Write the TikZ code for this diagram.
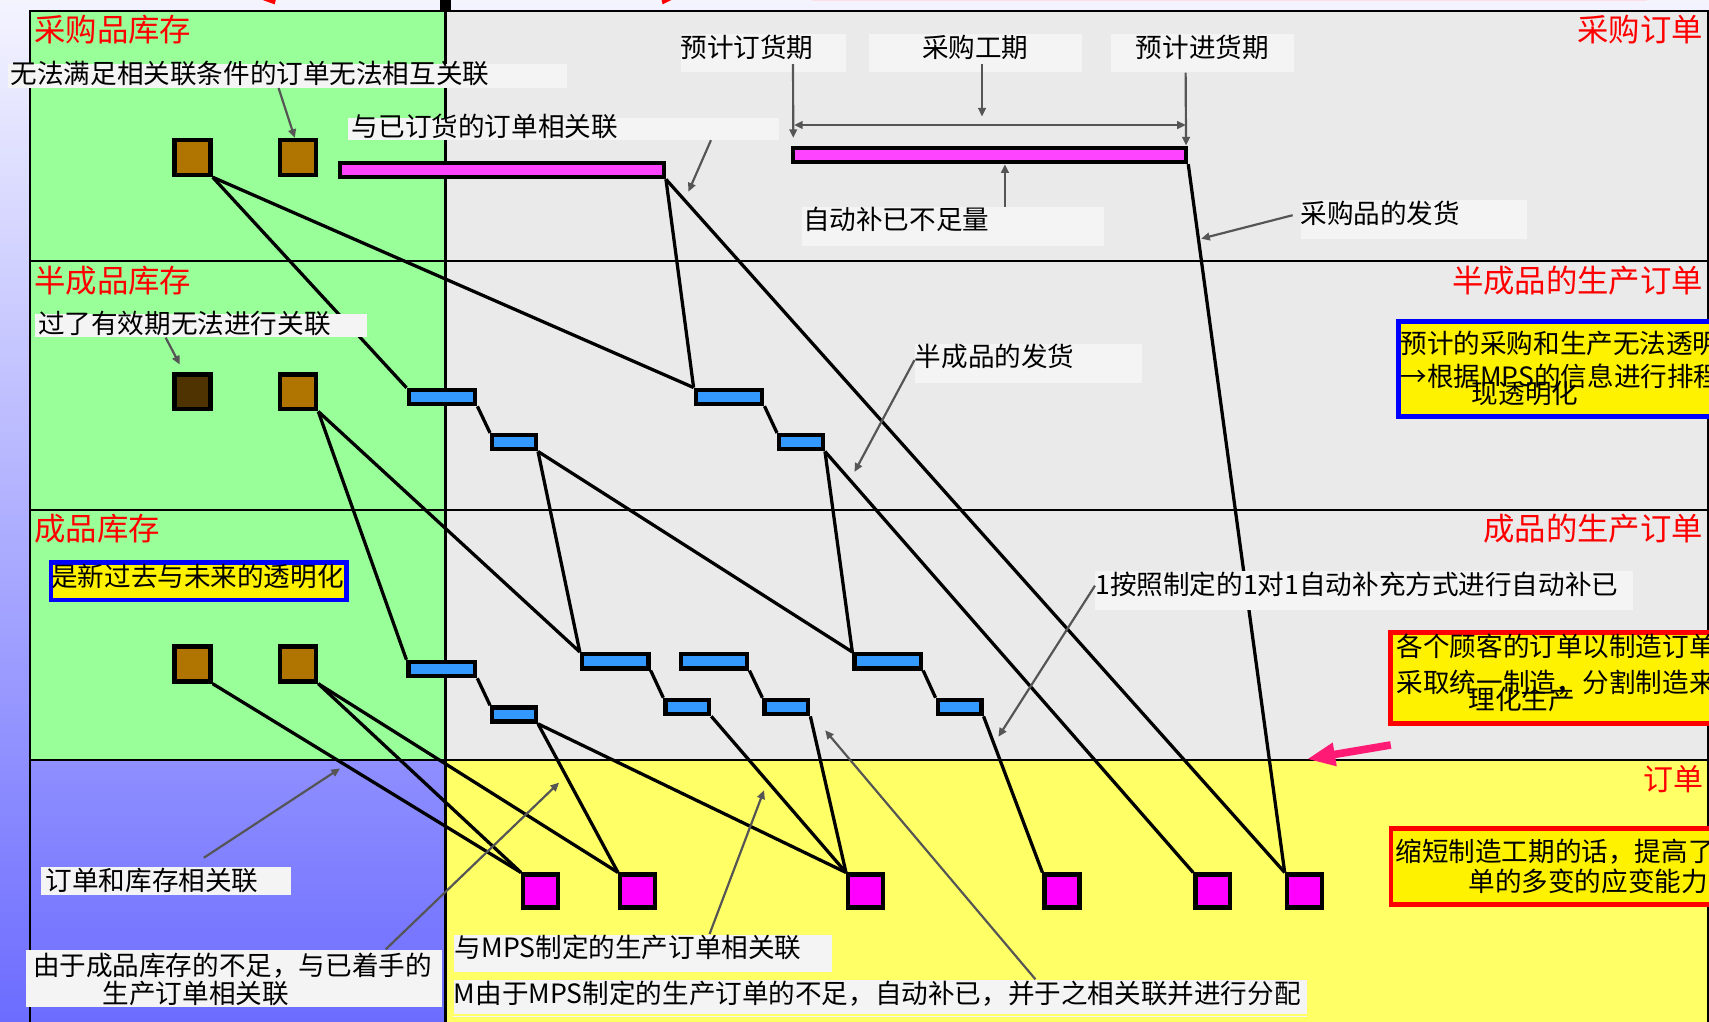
\documentclass[tikz,border=0pt]{standalone}
\usepackage{fontspec}
\setmainfont{Noto Sans CJK SC}
\usepackage{tikz, xcolor}
\usetikzlibrary{arrows.meta, calc}
\definecolor{stockgreen}{HTML}{99FF99}
\definecolor{cellgray}{HTML}{EAEAEA}
\definecolor{ordyellow}{HTML}{FFFF66}
\definecolor{notegray}{HTML}{F4F4F4}
\definecolor{stockbrown}{HTML}{B07400}
\definecolor{deadbrown}{HTML}{4F3300}
\definecolor{pinkbar}{HTML}{FF44FF}
\definecolor{custmag}{HTML}{FF00FF}
\definecolor{wipblue}{HTML}{3399FF}
\definecolor{pointgray}{HTML}{555555}
\definecolor{hotpink}{HTML}{FF1A75}
\definecolor{stripepink}{HTML}{FFDDE5}
\definecolor{sidetop}{HTML}{F4F4FF}
\definecolor{sidebot}{HTML}{6C6CFF}
\tikzset{
  rowlabel/.style={text=red, font=\fontsize{14.4}{16}\selectfont, inner sep=0},
  notebox/.style={fill=notegray, inner ysep=0, align=left, anchor=north west, font=\fontsize{12.2}{13}\selectfont},
  boxline/.style={inner sep=0, anchor=base west, font=\fontsize{12.2}{13}\selectfont},
  stocksq/.style={draw, line width=2pt, fill=stockbrown, minimum width=16.5pt, minimum height=16pt, inner sep=0},
  custsq/.style={stocksq, fill=custmag, minimum width=16pt, minimum height=15pt},
  longbar/.style={draw, line width=2pt, fill=wipblue, minimum width=30.5pt, minimum height=6.5pt, inner sep=0},
  shortbar/.style={longbar, minimum width=20pt},
  pordbar/.style={longbar, fill=pinkbar},
  hintbox/.style={draw=blue, line width=2pt, fill=yellow, inner sep=0, align=left, anchor=north west, font=\fontsize{12.2}{13}\selectfont},
  planbox/.style={draw=blue, fill=yellow, line width=2.2pt},
  warnbox/.style={draw=red, fill=yellow, line width=2.2pt},
  gridline/.style={line width=1pt},
  link/.style={line width=1.5pt},
  pointer/.style={draw=pointgray, line width=1pt, -{Triangle[length=4pt,width=3.5pt]}}
}
\begin{document}
\begin{tikzpicture}[x=0.5pt, y=-0.5pt]
\useasboundingbox (0,0) rectangle (1568,937);
\shade[top color=sidetop, bottom color=sidebot] (0,0) rectangle (1568,937);
\fill[red] (241,0) -- (253,0) -- (252,4) -- cycle;
\fill[red] (607,0) -- (616,0) -- (608,4) -- cycle;
\fill (404,0) rectangle (414,10);
\fill[stripepink] (745,0) rectangle (1511,1.2);
\fill[stockgreen] (27.4,10) rectangle (408.7,697.3);
\fill[cellgray] (408.7,10) rectangle (1570,697.3);
\fill[ordyellow] (408.7,697.3) rectangle (1570,940);
\draw[gridline] (27.4,940) -- (27.4,10) -- (1567.5,10) -- (1567.5,940);
\draw[gridline] (27.4,239.5) -- (1567.5,239.5);
\draw[gridline] (27.4,468) -- (1567.5,468);
\draw[gridline] (27.4,697.3) -- (1567.5,697.3);
\draw[gridline, line width=1.3pt] (408.7,10) -- (408.7,940);

\node[rowlabel, anchor=base west] (lpstock) at (31,38.5) {采购品库存};
\node[rowlabel, anchor=base east] (lporder) at (1563,38.5) {采购订单};
\node[rowlabel, anchor=base west] (lsstock) at (31,268) {半成品库存};
\node[rowlabel, anchor=base east] (lsorder) at (1563,268) {半成品的生产订单};
\node[rowlabel, anchor=base west] (lfstock) at (31,496) {成品库存};
\node[rowlabel, anchor=base east] (lforder) at (1563,496) {成品的生产订单};
\node[rowlabel, anchor=base east, font=\fontsize{13.75}{15}\selectfont] (lcorder) at (1563,725) {订单};

\node[stocksq] (pinv1) at (176.6,144.6) {};
\node[stocksq] (pinv2) at (273.5,144.6) {};
\node[stocksq, fill=deadbrown] (sinv1) at (176.6,359.5) {};
\node[stocksq] (sinv2) at (273.5,359.5) {};
\node[stocksq] (finv1) at (176.6,609.3) {};
\node[stocksq] (finv2) at (273.5,609.3) {};
\node[pordbar, minimum width=148.5pt] (pord1) at (460.5,156) {};
\node[pordbar, minimum width=180.2pt] (pord2) at (908,142.1) {};
\node[longbar] (sord1) at (405.5,364.3) {};
\node[shortbar] (sord2) at (471.6,405.7) {};
\node[longbar] (sord3) at (668.9,364.1) {};
\node[shortbar] (sord4) at (734.9,405.7) {};
\node[longbar] (ford1) at (405.4,613.8) {};
\node[shortbar] (ford2) at (471.6,655.6) {};
\node[longbar] (ford3) at (564.5,606.7) {};
\node[shortbar] (ford4) at (630.6,648.7) {};
\node[longbar] (ford5) at (655.1,606.7) {};
\node[shortbar] (ford6) at (721.5,648.7) {};
\node[longbar] (ford7) at (814.5,606.7) {};
\node[shortbar] (ford8) at (880.4,648.7) {};
\node[custsq] (cord1) at (496,817.5) {};
\node[custsq] (cord2) at (585,817.5) {};
\node[custsq] (cord3) at (794.2,817.5) {};
\node[custsq] (cord4) at (974.4,817.5) {};
\node[custsq] (cord5) at (1112.7,817.5) {};
\node[custsq] (cord6) at (1196.7,817.5) {};

\draw[link] (pinv1.south east) -- (sord1.north west);
\draw[link] (pinv1.south east) -- (sord3.north west);
\draw[link] (pord1.south east) -- (sord3.north west);
\draw[link] (pord1.south east) -- (cord6.north west);
\draw[link] (pord2.south east) -- (cord6.north west);
\draw[link] (sord1.south east) -- (sord2.north west);
\draw[link] (sord2.south east) -- (ford3.north west);
\draw[link] (sord2.south east) -- (ford7.north west);
\draw[link] (sord3.south east) -- (sord4.north west);
\draw[link] (sord4.south east) -- (ford7.north west);
\draw[link] (sord4.south east) -- (cord5.north west);
\draw[link] (sinv2.south east) -- (ford1.north west);
\draw[link] (sinv2.south east) -- (ford3.north west);
\draw[link] (ford1.south east) -- (ford2.north west);
\draw[link] (ford3.south east) -- (ford4.north west);
\draw[link] (ford5.south east) -- (ford6.north west);
\draw[link] (ford7.south east) -- (ford8.north west);
\draw[link] (ford2.south east) -- (cord2.north west);
\draw[link] (ford2.south east) -- (cord3.north west);
\draw[link] (ford4.south east) -- (cord3.north west);
\draw[link] (ford6.south east) -- (cord3.north west);
\draw[link] (ford8.south east) -- (cord4.north west);
\draw[link] (finv1.south east) -- (cord1.north west);
\draw[link] (finv2.south east) -- (cord1.north west);
\draw[link] (finv2.south east) -- (cord2.north west);

\node[notebox, inner xsep=1.2pt, text width=253.8pt, text height=8.55pt, text depth=2.1pt] (nunmatch) at (7,58.7) {无法满足相关联条件的订单无法相互关联};
\node[notebox, inner xsep=2pt, text width=193.7pt, text height=8.6pt, text depth=1.5pt] (nlinked) at (318.5,107.6) {与已订货的订单相关联};
\node[notebox, inner xsep=0pt, text width=76pt, text height=10.75pt, text depth=6.85pt] (norder) at (624,30.6) {预计订货期};
\node[notebox, inner xsep=0pt, text width=97.5pt, text height=10.75pt, text depth=6.85pt, align=center] (nlead) at (797,30.6) {采购工期};
\node[notebox, inner xsep=0pt, text width=83.7pt, text height=10.75pt, text depth=6.85pt, align=center] (narrive) at (1019,30.6) {预计进货期};
\node[notebox, inner xsep=0.5pt, text width=137.5pt, text height=10.35pt, text depth=7.7pt] (nrefill) at (735.4,189.6) {自动补已不足量};
\node[notebox, inner xsep=0pt, text width=103.8pt, text height=10.75pt, text depth=7pt] (nship) at (1192.8,183.5) {采购品的发货};
\node[notebox, inner xsep=1.5pt, text width=149.4pt, text height=8.65pt, text depth=1.85pt] (nexpire) at (31.6,288) {过了有效期无法进行关联};
\node[notebox, inner xsep=0pt, text width=104pt, text height=10.1pt, text depth=7.6pt] (nsemiship) at (839,315.6) {半成品的发货};
\node[notebox, inner xsep=0pt, text width=246.5pt, text height=10.7pt, text depth=7.15pt] (nonetoone) at (1004.6,523.9) {1按照制定的1对1自动补充方式进行自动补已};
\node[notebox, inner xsep=2pt, text width=110.7pt, text height=11pt, text depth=2.2pt] (nlink) at (37.6,794.6) {订单和库存相关联};
\node[notebox, inner xsep=3pt, text width=184.8pt, text height=11.8pt, text depth=14.5pt, font=\fontsize{12.2}{13.05}\selectfont] (nshort) at (23.9,871) {由于成品库存的不足，与已着手的\\\hspace*{32pt}生产订单相关联};
\node[notebox, inner xsep=0.5pt, text width=172.7pt, text height=10.4pt, text depth=6.85pt] (nmps) at (416,857) {与MPS制定的生产订单相关联};
\node[notebox, inner xsep=0pt, text width=391.5pt, text height=10.7pt, text depth=4.9pt] (nalloc) at (416,898.5) {M由于MPS制定的生产订单的不足，自动补已，并于之相关联并进行分配};
\fill[notegray] (416,932) rectangle (1199,933.5);

\node[hintbox, text width=135.5pt, text height=11.15pt, text depth=6.15pt] (nhint) at (45,514) {是新过去与未来的透明化};
\draw[planbox] (1283.2,295.2) rectangle (1600,381.8);
\node[boxline] (plan1) at (1284.5,324.3) {预计的采购和生产无法透明};
\node[boxline] (plan2) at (1284.5,354.9) {→根据MPS的信息进行排程};
\node[boxline] (plan3) at (1350,370.3) {现透明化};
\draw[warnbox] (1276,580.2) rectangle (1600,663.8);
\node[boxline] (merge1) at (1281,602.7) {各个顾客的订单以制造订单};
\node[boxline] (merge2) at (1281,634.9) {采取统一制造，分割制造来};
\node[boxline] (merge3) at (1347,651.3) {理化生产};
\draw[warnbox] (1276.2,760.2) rectangle (1600,829.8);
\node[boxline] (lead1) at (1280,790.7) {缩短制造工期的话，提高了};
\node[boxline] (lead2) at (1347,818.3) {单的多变的应变能力};

\coordinate (linkedtip) at (631.6,175.9);
\coordinate (leadtip) at (901,107);
\coordinate (spanl) at (728.5,114.7);
\coordinate (spanr) at (1088,114.7);
\coordinate (shiptip) at (1102,219);
\coordinate (semitip) at (784,433);
\coordinate (onetip) at (916,676);
\coordinate (linktip) at (312,705);
\coordinate (shorttip) at (513,718);
\coordinate (mpstip) at (701,725);
\coordinate (alloctip) at (757,670);
\coordinate (hinttail) at (1276,683.5);
\coordinate (hinttip) at (1199,696.5);

\draw[pointer] ([xshift=124.3pt]nunmatch.south west) -- ([xshift=-1.5pt]pinv2.north);
\draw[pointer] ([xshift=166.9pt]nlinked.south west) -- (linkedtip);
\draw[pointer] ([xshift=51.8pt, yshift=3.9pt]norder.south west) -- ([xshift=1pt, yshift=3.5pt]pord2.north west);
\draw[pointer] ([xshift=52pt, yshift=3.9pt]nlead.south west) -- (leadtip);
\draw[pointer] ([xshift=34.4pt]narrive.south west) -- ([xshift=-1pt]pord2.north east);
\draw[pointer, {Triangle[length=4pt,width=3.5pt]}-{Triangle[length=4pt,width=3.5pt]}] (spanl) -- (spanr);
\draw[pointer] ([xshift=93.3pt]nrefill.north west) -- ([xshift=7pt]pord2.south);
\draw[pointer] ([xshift=-3.4pt, yshift=2.1pt]nship.west) -- (shiptip);
\draw[pointer] ([xshift=60.2pt]nexpire.south west) -- ([xshift=-5.8pt, yshift=3.5pt]sinv1.north);
\draw[pointer] ([yshift=1.65pt]nsemiship.west) -- (semitip);
\draw[pointer] ([yshift=2.4pt]nonetoone.west) -- (onetip);
\draw[pointer] ([xshift=74.7pt, yshift=3.8pt]nlink.north west) -- (linktip);
\draw[pointer] ([xshift=165pt]nshort.north west) -- (shorttip);
\draw[pointer] ([xshift=117.5pt]nmps.north west) -- (mpstip);
\draw[pointer] ([xshift=267pt]nalloc.north west) -- (alloctip);
\draw[hotpink, line width=3.5pt, -{Triangle[length=13pt,width=10pt]}] (hinttail) -- (hinttip);
\end{tikzpicture}
\end{document}
